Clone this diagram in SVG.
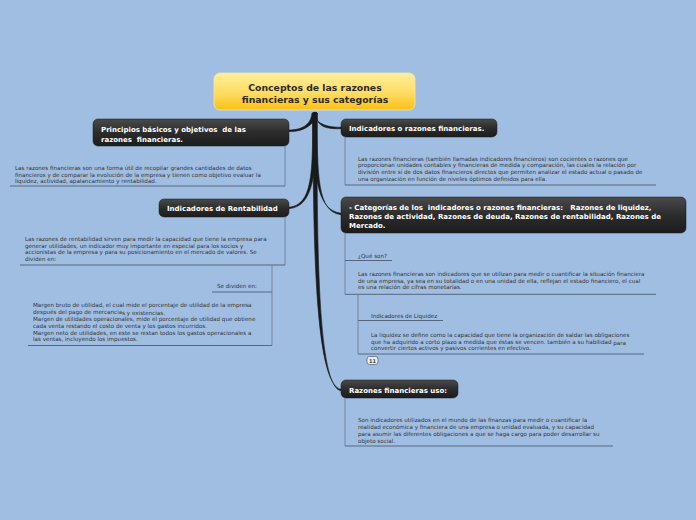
<svg xmlns="http://www.w3.org/2000/svg" width="696" height="520" viewBox="0 0 696 520">
<defs>
<linearGradient id="gy" x1="0" y1="0" x2="0" y2="1">
<stop offset="0" stop-color="#ffee9a"/>
<stop offset="0.55" stop-color="#fedc62"/>
<stop offset="1" stop-color="#fbbf14"/>
</linearGradient>
<linearGradient id="gd" x1="0" y1="0" x2="0" y2="1">
<stop offset="0" stop-color="#4a4a4a"/>
<stop offset="0.5" stop-color="#2c2c2c"/>
<stop offset="1" stop-color="#1c1c1c"/>
</linearGradient>
</defs>
<style>
.bg{fill:#a0bee2}
text{white-space:pre}
.title{font-family:"DejaVu Sans",Verdana,sans-serif;font-weight:bold;font-size:9.3px;fill:#2a2a2a;text-anchor:middle}
.node{fill:url(#gd);stroke:#1a1a1a;stroke-width:0.5}
.nt{font-family:"DejaVu Sans",Verdana,sans-serif;font-weight:bold;font-size:7px;fill:#ffffff}
.bt{font-family:"DejaVu Sans",Verdana,sans-serif;font-size:5.6px;fill:#333333}
.ul{stroke:#56667e;stroke-width:1;fill:none}
.vl{stroke:#7486a0;stroke-width:1;fill:none}
.con{fill:#1a1a1a;stroke:#1a1a1a;stroke-width:0.6}
</style>
<rect class="bg" x="0" y="0" width="696" height="520"/>

<g id="connectors">
<path class="con" d="M312,113 C311,126 300,130 289,130 L289,131.5 C301,132 314,127 317,113 Z"/>
<path class="con" d="M313,113 C317,126 330,127 341,127.3 L341,128.7 C329,129 315,128 317,113 Z"/>
<path class="con" d="M312.5,113 C313,175 312,205 289,207.3 L289,208.7 C314,206 316,175 317,113 Z"/>
<path class="con" d="M313,113 C314,175 316,210 341,213.3 L341,214.7 C317,212 317.5,175 317,113 Z"/>
<path class="con" d="M313,113 C313,255 316,385 341,389.3 L341,390.7 C318,387 317,255 317,113 Z"/>
<ellipse cx="315" cy="114" rx="2.6" ry="2.2" fill="#1a1a1a"/>
</g>

<g id="root">
<rect x="214" y="73" width="201" height="37" rx="6" fill="url(#gy)" stroke="#f6e6a8" stroke-width="0.8"/>
<text class="title" x="315" y="91">Conceptos de las razones</text>
<text class="title" x="315" y="103">financieras y sus categorías</text>
</g>

<g id="principios">
<rect class="node" x="93" y="119" width="196" height="27" rx="5"/>
<text class="nt" x="101" y="131.5">Principios básicos y objetivos  de las</text>
<text class="nt" x="101" y="141.5">razones  financieras.</text>
</g>
<g id="principios-text">
<line class="vl" x1="285" y1="146" x2="285" y2="186"/>
<line class="ul" x1="10" y1="186" x2="285" y2="186"/>
<text class="bt" x="15" y="169.5">Las razones financieras son una forma útil de recopilar grandes cantidades de datos</text>
<text class="bt" x="15" y="176.5">financieros y de comparar la evolución de la empresa y tienen como objetivo evaluar la</text>
<text class="bt" x="15" y="183">liquidez, actividad, apalancamiento y rentabilidad.</text>
</g>

<g id="rentabilidad">
<rect class="node" x="159" y="199" width="130" height="18" rx="5"/>
<text class="nt" x="167" y="211">Indicadores de Rentabilidad</text>
</g>
<g id="rentabilidad-text">
<line class="vl" x1="285" y1="217" x2="285" y2="265"/>
<line class="ul" x1="20" y1="265" x2="285" y2="265"/>
<text class="bt" x="25" y="240.5">Las razones de rentabilidad sirven para medir la capacidad que tiene la empresa para</text>
<text class="bt" x="25" y="247.5">generar utilidades, un indicador muy importante en especial para los socios y</text>
<text class="bt" x="25" y="254">accionistas de la empresa y para su posicionamiento en el mercado de valores. Se</text>
<text class="bt" x="25" y="260.5">dividen en:</text>
</g>
<g id="se-dividen">
<line class="vl" x1="272" y1="265" x2="272" y2="292"/>
<line class="ul" x1="212" y1="292" x2="272" y2="292"/>
<text class="bt" x="217" y="288">Se dividen en:</text>
</g>
<g id="margenes">
<line class="vl" x1="272" y1="292" x2="272" y2="345.5"/>
<line class="ul" x1="28" y1="345.5" x2="272" y2="345.5"/>
<text class="bt" x="33" y="307">Margen bruto de utilidad, el cual mide el porcentaje de utilidad de la empresa</text>
<text class="bt" x="33" y="313.5">después del pago de mercancia<tspan dy="1.2">s y existencias.</tspan></text>
<text class="bt" x="33" y="321">Margen de utilidades operacionales, mide el porcentaje de utilidad que obtiene</text>
<text class="bt" x="33" y="327.5">cada venta restando el costo de venta y los gastos incurridos.</text>
<text class="bt" x="33" y="334.5">Margen neto de utilidades, en este se restan todos los gastos operacionales a</text>
<text class="bt" x="33" y="341">las ventas, incluyendo los impuestos.</text>
</g>

<g id="indicadores">
<rect class="node" x="341" y="119" width="156" height="18" rx="5"/>
<text class="nt" x="349" y="131">Indicadores o razones financieras.</text>
</g>
<g id="indicadores-text">
<line class="vl" x1="345" y1="137" x2="345" y2="185"/>
<line class="ul" x1="345" y1="185" x2="656" y2="185"/>
<text class="bt" x="358" y="160.5">Las razones financieras (también llamadas indicadores financieros) son cocientes o razones que</text>
<text class="bt" x="358" y="167">proporcionan unidades contables y financieras de medida y comparación, las cuales la relación por</text>
<text class="bt" x="358" y="174">división entre sí de dos datos financieros directos que permiten analizar el estado actual o pasado de</text>
<text class="bt" x="358" y="181">una organización en función de niveles óptimos definidos para ella.</text>
</g>

<g id="categorias">
<rect class="node" x="341" y="197" width="345" height="36" rx="5"/>
<text class="nt" x="349" y="210">- Categorías de los  indicadores o razones financieras:   Razones de liquidez,</text>
<text class="nt" x="349" y="219">Razones de actividad, Razones de deuda, Razones de rentabilidad, Razones de</text>
<text class="nt" x="349" y="228">Mercado.</text>
</g>
<g id="que-son">
<line class="vl" x1="345" y1="233" x2="345" y2="294.3"/>
<line class="ul" x1="345" y1="260.5" x2="392" y2="260.5"/>
<text class="bt" x="358" y="257.5">¿Qué son?</text>
</g>
<g id="que-son-text">
<line class="ul" x1="345" y1="294.3" x2="656" y2="294.3"/>
<text class="bt" x="358" y="276">Las razones financieras son indicadores que se utilizan para medir o cuantificar la situación financiera</text>
<text class="bt" x="358" y="282.5">de una empresa, ya sea en su totalidad o en una unidad de ella, reflejan el estado financiero, el cual</text>
<text class="bt" x="358" y="289">es una relación de cifras monetarias.</text>
</g>
<g id="liquidez">
<line class="vl" x1="358" y1="294.3" x2="358" y2="354"/>
<line class="ul" x1="358" y1="320.5" x2="443" y2="320.5"/>
<text class="bt" x="371" y="317.5">Indicadores de Liquidez</text>
</g>
<g id="liquidez-text">
<line class="ul" x1="358" y1="354" x2="644" y2="354"/>
<text class="bt" x="371" y="337">La liquidez se define como la capacidad que tiene la organización de saldar las obligaciones</text>
<text class="bt" x="371" y="343.5">que ha adquirido a corto plazo a medida que éstas se vencen. también a su habilidad <tspan dy="1">para</tspan></text>
<text class="bt" x="371" y="350">convertir ciertos activos y pasivos corrientes en efectivo.</text>
</g>
<g id="collapse">
<rect x="367" y="356.5" width="11" height="8" rx="2.5" fill="#e8eef6" stroke="#5a6a80" stroke-width="0.8"/>
<text x="372.5" y="362.6" font-family="DejaVu Sans, sans-serif" font-size="5px" font-weight="bold" fill="#444" text-anchor="middle">11</text>
</g>

<g id="uso">
<rect class="node" x="341" y="380" width="117" height="18" rx="5"/>
<text class="nt" x="349" y="392.5">Razones financieras uso:</text>
</g>
<g id="uso-text">
<line class="vl" x1="345" y1="398" x2="345" y2="446"/>
<line class="ul" x1="345" y1="446" x2="613" y2="446"/>
<text class="bt" x="358" y="422">Son indicadores utilizados en el mundo de las finanzas para medir o cuantificar la</text>
<text class="bt" x="358" y="429">realidad económica y financiera de una empresa o unidad evaluada, y su capacidad</text>
<text class="bt" x="358" y="436">para asumir las diferentes obligaciones a que se haga cargo para poder desarrollar su</text>
<text class="bt" x="358" y="443">objeto social.</text>
</g>
</svg>
